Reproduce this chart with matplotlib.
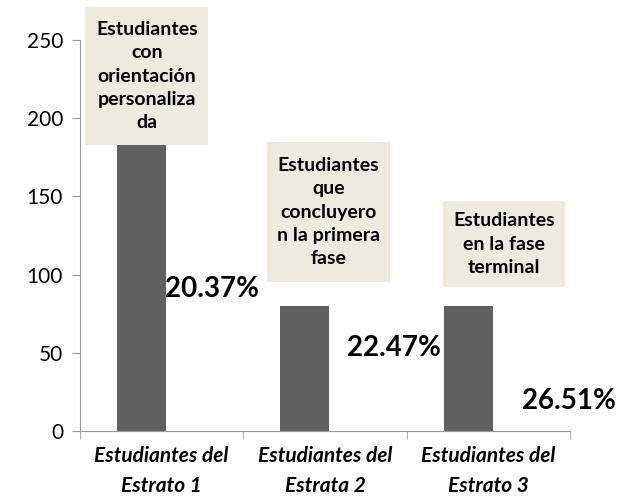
import numpy as np
import matplotlib.pyplot as plt
from matplotlib.patches import Rectangle

categorias = ['Estudiantes del\nEstrato 1', 'Estudiantes del\nEstrata 2', 'Estudiantes del\nEstrato 3']
valores = [200, 80, 80]
porcentajes = ['20.37%', '22.47%', '26.51%']
etiquetas = ['Estudiantes\ncon\norientación\npersonaliza\nda',
             'Estudiantes\nque\nconcluyero\nn la primera\nfase',
             'Estudiantes\nen la fase\nterminal']

# layout of the label boxes and percent texts (data coords)
caja_x = [-0.09, 1.02, 2.095]
caja_y = [(183, 271), (95.5, 184.5), (92, 147)]
pct_x = [0.31, 1.42, 2.49]
pct_y = [91, 53, 19]

plt.rcParams['font.family'] = ['Lato', 'DejaVu Sans']

fig = plt.figure(figsize=(6.28, 5.01), dpi=100)
ax = fig.add_axes([0.127, 0.14, 0.781, 0.78])

x = np.arange(len(categorias))
ax.bar(x - 0.125, valores, width=0.3, color='#606060', zorder=2)

for i in range(3):
    y0, y1 = caja_y[i]
    ax.add_patch(Rectangle((caja_x[i] - 0.375, y0), 0.75, y1 - y0, facecolor='#EDEAE0',
                           edgecolor='none', zorder=3, clip_on=False))
    ax.text(caja_x[i], (y0 + y1) / 2, etiquetas[i], ha='center', va='center', fontsize=14,
            fontweight='bold', linespacing=1.45, zorder=4, clip_on=False)
    ax.text(pct_x[i], pct_y[i], porcentajes[i], ha='center', va='center', fontsize=20,
            fontweight='bold', zorder=4, clip_on=False)

ax.set_xlim(-0.5, 2.5)
ax.set_ylim(0, 250)
ax.set_yticks([0, 50, 100, 150, 200, 250])
ax.set_xticks(x)
ax.set_xticklabels(categorias, fontsize=15, fontweight='bold', style='italic', linespacing=1.6)
ax.set_xticks([-0.5, 0.5, 1.5, 2.5], minor=True)
ax.tick_params(axis='x', which='major', length=0, pad=11)
ax.tick_params(axis='x', which='minor', length=6, color='#999999')
ax.tick_params(axis='y', length=6, color='#999999', labelsize=15, pad=6)
for s in ['top', 'right']:
    ax.spines[s].set_visible(False)
for s in ['left', 'bottom']:
    ax.spines[s].set_color('#999999')

fig.savefig('out.png', dpi=100)
